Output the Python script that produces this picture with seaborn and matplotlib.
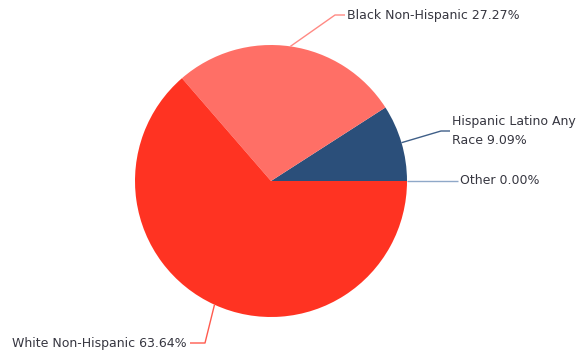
import numpy as np
import seaborn as sns
import matplotlib
matplotlib.use("Agg")
import matplotlib.pyplot as plt

categories = ["Hispanic Latino Any Race", "Black Non-Hispanic", "White Non-Hispanic", "Other"]
shares = [9.09, 27.27, 63.64, 0.00]
labels = ["Hispanic Latino Any\nRace 9.09%", "Black Non-Hispanic 27.27%",
          "White Non-Hispanic 63.64%", "Other 0.00%"]
colors = ["#2b4f7a", "#ff6f66", "#ff3322", "#8fa8c8"]

sns.set_theme(style="white")
plt.rcParams["font.family"] = ["DejaVu Sans"]

W, H = 581, 354
fig = plt.figure(figsize=(W / 100, H / 100), dpi=100)
ax = fig.add_axes([0, 0, 1, 1])

cx, cy, r = 271, H - 181, 136
wedges, _ = ax.pie(shares, colors=colors, startangle=0, counterclock=True,
                   center=(cx, cy), radius=r, frame=True,
                   wedgeprops=dict(linewidth=0))
ax.set_xlim(0, W)
ax.set_ylim(0, H)
ax.set_aspect("equal")
ax.axis("off")

# elbow point and text anchor per label (pixel layout, y measured from top)
layout = {
    0: dict(elbow=(441, 131), end=(450, 131), text=(452, 131), ha="left"),
    1: dict(elbow=(335, 15), end=(345, 15), text=(347, 15), ha="left"),
    2: dict(elbow=(205, 343), end=(190, 343), text=(187, 343), ha="right"),
    3: dict(elbow=(440, 181), end=(458, 181), text=(460, 181), ha="left"),
}
line_colors = ["#3f5f88", "#ff8a84", "#ff5a4e", "#8fa8c8"]

for i, w in enumerate(wedges):
    ang = np.deg2rad((w.theta1 + w.theta2) / 2)
    x0 = cx + r * np.cos(ang)
    y0 = cy + r * np.sin(ang)
    L = layout[i]
    ex, ey = L["elbow"][0], H - L["elbow"][1]
    nx, ny = L["end"][0], H - L["end"][1]
    ax.plot([x0, ex, nx], [y0, ey, ny], color=line_colors[i], lw=1,
            solid_capstyle="butt", zorder=1)
    ax.text(L["text"][0], H - L["text"][1], labels[i], ha=L["ha"], va="center",
            fontsize=9, color="#363640", linespacing=1.6)

fig.savefig("out.png", dpi=100, facecolor="white")
